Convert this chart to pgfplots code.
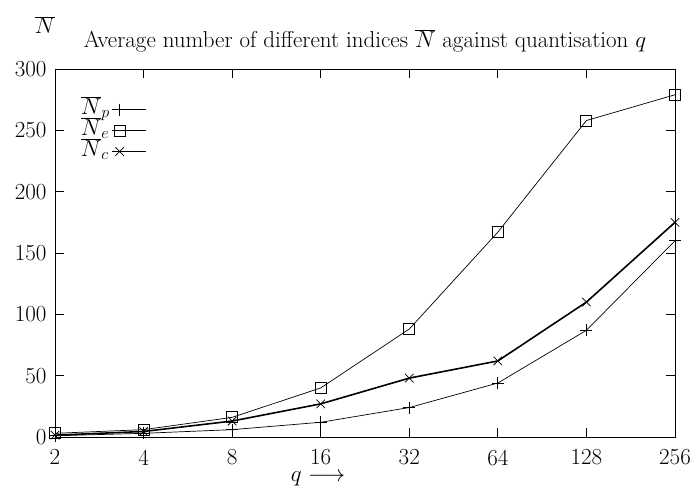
\documentclass[border=0pt]{standalone}
\usepackage{fix-cm}
\usepackage{pgfplots}
\pgfplotsset{compat=1.18}
\newcommand{\bigf}{\fontsize{23}{27}\selectfont}
\begin{document}
\begin{tikzpicture}
\begin{axis}[name=ax,
  scale only axis, width=620pt, height=368pt,
  xmode=log, log basis x=2,
  xmin=2, xmax=256, ymin=0, ymax=300,
  xtick={2,4,8,16,32,64,128,256},
  xticklabels={2,4,8,16,32,64,128,256},
  ytick={0,50,100,150,200,250,300},
  tick align=inside, major tick length=9pt,
  axis line style={line width=0.8pt},
  tick style={line width=0.8pt, black},
  tick label style={font=\bigf},
  xticklabel style={inner sep=1pt, yshift=-11.5pt},
  yticklabel style={xshift=-5pt},
  title={Average number of different indices $\overline{N}$ against quantisation $q$},
  title style={at={(0.5,1)}, anchor=center, yshift=22pt, font=\bigf},
  clip=false,
  legend plot pos=right,
  legend cell align=left,
  legend style={draw=none, fill=none, at={(0.04,0.919)}, anchor=north west,
    inner sep=0pt, row sep=0pt, font=\bigf,
    nodes={inner sep=1pt, text height=14pt, text depth=5pt}},
  legend image code/.code={\draw[mark repeat=2, mark phase=2, #1]
    plot coordinates {(11pt,0pt) (19pt,0pt) (45pt,0pt)};},
]
\addplot[black, line width=0.7pt, mark=+, mark size=6pt,
  mark options={line width=0.8pt}] coordinates {
  (2,1) (4,3) (8,6) (16,12) (32,24) (64,44) (128,87) (256,160)};
\addlegendentry{$\overline{N}_p$}
\addplot[black, line width=0.7pt, mark=square, mark size=5.5pt,
  mark options={line width=0.9pt}] coordinates {
  (2,3) (4,6) (8,16) (16,40) (32,88) (64,167) (128,258) (256,279)};
\addlegendentry{$\overline{N}_e$}
\addplot[black, line width=1.6pt, mark=x, mark size=6pt,
  mark options={line width=0.8pt}] coordinates {
  (2,1.5) (4,4.5) (8,13) (16,27) (32,48) (64,62) (128,110) (256,175)};
\addlegendentry{$\overline{N}_c$}
\end{axis}
\node[font=\bigf] at ([shift={(-10pt,44pt)}]ax.north west) {$\overline{N}$};
\node[font=\bigf, inner sep=0pt] at ([shift={(263pt,-42pt)}]ax.south west) {$q \longrightarrow$};
\pgfresetboundingbox
\path[use as bounding box] ([shift={(-55pt,-50pt)}]ax.south west) rectangle ([shift={(16pt,69pt)}]ax.north east);
\end{tikzpicture}
\end{document}
